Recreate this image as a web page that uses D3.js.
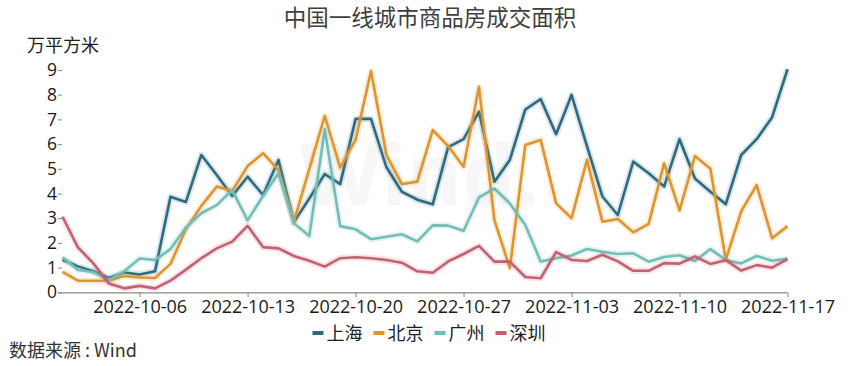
<!DOCTYPE html>
<html>
<head>
<meta charset="utf-8">
<script src="https://cdn.jsdelivr.net/npm/d3@7/dist/d3.min.js"></script>
<style>
  html, body { margin: 0; padding: 0; background: #fff; }
  svg { display: block; }
  text { font-family: "Open Sans", "Noto Sans CJK SC", sans-serif; }
  .cjk { font-family: "Noto Sans CJK SC", "Open Sans", sans-serif; }
</style>
</head>
<body>
<svg id="chart" width="850" height="366"></svg>
<script>
const title = "中国一线城市商品房成交面积";
const unitLabel = "万平方米";
const sourceLabel = "数据来源 : Wind";

const dates = [
  "2022-10-01","2022-10-02","2022-10-03","2022-10-04","2022-10-05","2022-10-06","2022-10-07",
  "2022-10-08","2022-10-09","2022-10-10","2022-10-11","2022-10-12","2022-10-13","2022-10-14",
  "2022-10-15","2022-10-16","2022-10-17","2022-10-18","2022-10-19","2022-10-20","2022-10-21",
  "2022-10-22","2022-10-23","2022-10-24","2022-10-25","2022-10-26","2022-10-27","2022-10-28",
  "2022-10-29","2022-10-30","2022-10-31","2022-11-01","2022-11-02","2022-11-03","2022-11-04",
  "2022-11-05","2022-11-06","2022-11-07","2022-11-08","2022-11-09","2022-11-10","2022-11-11",
  "2022-11-12","2022-11-13","2022-11-14","2022-11-15","2022-11-16","2022-11-17"
];

const xTickLabels = ["2022-10-06","2022-10-13","2022-10-20","2022-10-27","2022-11-03","2022-11-10","2022-11-17"];
const yTickValues = [0,1,2,3,4,5,6,7,8,9];

const seriesNames = ["上海","北京","广州","深圳"];

const shanghai = [1.32,1.05,0.85,0.58,0.8,0.72,0.85,3.87,3.66,5.56,4.75,3.9,4.68,3.94,5.36,2.84,
  3.8,4.79,4.38,7.02,7.02,5.06,4.07,3.75,3.56,5.88,6.2,7.31,4.48,5.36,7.4,7.82,6.4,7.99,5.92,3.88,
  3.13,5.29,4.82,4.28,6.2,4.61,4.07,3.57,5.56,6.2,7.08,9.03];
const beijing = [0.83,0.47,0.47,0.47,0.66,0.6,0.58,1.15,2.55,3.5,4.28,4.1,5.11,5.63,4.95,2.86,
  5.0,7.14,5.05,6.17,8.96,5.56,4.38,4.48,6.57,5.92,5.08,8.32,2.92,0.98,5.96,6.17,3.6,3.0,5.36,2.86,
  2.97,2.43,2.77,5.22,3.32,5.52,5.0,1.32,3.28,4.34,2.19,2.68];
const guangzhou = [1.42,0.9,0.82,0.5,0.85,1.37,1.31,1.75,2.62,3.2,3.53,4.14,2.91,3.9,4.82,2.8,
  2.28,6.6,2.68,2.55,2.15,2.25,2.35,2.06,2.71,2.7,2.49,3.84,4.2,3.6,2.72,1.25,1.38,1.49,1.75,1.64,
  1.55,1.58,1.24,1.43,1.5,1.27,1.75,1.31,1.17,1.47,1.28,1.36];
const shenzhen = [3.06,1.82,1.17,0.36,0.16,0.26,0.16,0.47,0.92,1.38,1.78,2.05,2.69,1.83,1.78,1.47,
  1.28,1.04,1.38,1.42,1.38,1.31,1.2,0.85,0.79,1.25,1.55,1.88,1.24,1.24,0.62,0.57,1.63,1.31,1.27,1.52,
  1.25,0.87,0.87,1.18,1.16,1.45,1.15,1.3,0.88,1.1,1.0,1.34];

const seriesValues = [shanghai, beijing, guangzhou, shenzhen];
const seriesColors = ["#2c6b7f", "#e0942e", "#72bdb4", "#c4606f"];

const svg = d3.select("#chart");

const x = d3.scalePoint().domain(dates).range([62.5, 787.5]);
const y = d3.scaleLinear().domain([0, 9]).range([292.3, 70]);

// faint watermark
svg.append("text")
  .attr("x", 300).attr("y", 205)
  .attr("font-size", 84).attr("font-weight", "bold")
  .attr("fill", "#f7f7f7")
  .attr("font-family", "Liberation Sans, sans-serif")
  .text("Wind.");

// title
svg.append("text").attr("class", "cjk")
  .attr("x", 430).attr("y", 26)
  .attr("text-anchor", "middle")
  .attr("font-size", 22.5)
  .attr("fill", "#3f3f3f")
  .text(title);

// unit
svg.append("text").attr("class", "cjk")
  .attr("x", 27).attr("y", 52)
  .attr("font-size", 18)
  .attr("fill", "#222")
  .text(unitLabel);

// x axis
const xAxis = d3.axisBottom(x).tickValues(xTickLabels).tickSize(5).tickSizeOuter(0).tickPadding(3);
const gx = svg.append("g").attr("transform", `translate(0,${y(0)})`).call(xAxis);
gx.select(".domain").attr("stroke", "#8a8a8a").attr("stroke-width", 1.2).attr("d", `M58,0.5H${x.range()[1]}`);
gx.selectAll(".tick line").attr("stroke", "#8a8a8a");
gx.selectAll(".tick text").attr("font-size", 18).attr("fill", "#1a1a1a")
  .attr("font-family", "Open Sans, sans-serif");

// y axis
const yAxis = d3.axisLeft(y).tickValues(yTickValues).tickSize(4).tickPadding(1).tickFormat(d3.format("d"));
const gy = svg.append("g").attr("transform", `translate(62,0)`).call(yAxis);
gy.select(".domain").remove();
gy.selectAll(".tick line").attr("stroke", "#8a8a8a");
gy.selectAll(".tick text").attr("font-size", 17.5).attr("fill", "#1a1a1a")
  .attr("font-family", "Open Sans, sans-serif");

// lines
const line = d3.line().x((d, i) => x(dates[i])).y(d => y(d));
seriesValues.forEach((vals, k) => {
  svg.append("path").datum(vals)
    .attr("fill", "none")
    .attr("stroke", seriesColors[k])
    .attr("stroke-opacity", 0.16)
    .attr("stroke-width", 6.5)
    .attr("stroke-linejoin", "round")
    .attr("d", line);
  svg.append("path").datum(vals)
    .attr("fill", "none")
    .attr("stroke", seriesColors[k])
    .attr("stroke-width", 2.6)
    .attr("stroke-linejoin", "round")
    .attr("d", line);
});

// legend
const legend = svg.append("g");
let lx = 0;
seriesNames.forEach((name, k) => {
  const g = legend.append("g").attr("transform", `translate(${lx},0)`);
  g.append("rect").attr("x", 0).attr("y", -2).attr("width", 11).attr("height", 4).attr("fill", seriesColors[k]);
  const t = g.append("text").attr("class", "cjk").attr("x", 14).attr("y", 6.5)
    .attr("font-size", 18).attr("fill", "#222").text(name);
  lx += 14 + t.node().getComputedTextLength() + 11;
});
const lw = lx - 11;
legend.attr("transform", `translate(${425 - lw / 2 + 4},333)`);

// source
svg.append("text").attr("class", "cjk")
  .attr("x", 9).attr("y", 357)
  .attr("font-size", 18)
  .attr("fill", "#333")
  .text(sourceLabel);
</script>
</body>
</html>
